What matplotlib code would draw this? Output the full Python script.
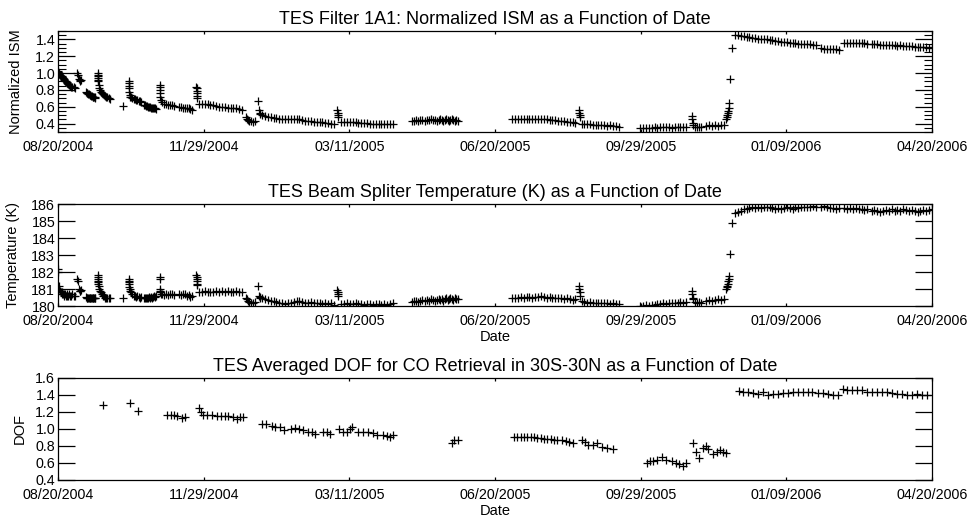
import numpy as np
import matplotlib; matplotlib.use("Agg")
import matplotlib.pyplot as plt
from matplotlib.ticker import MultipleLocator, NullLocator

plt.rcParams.update({"font.family": ["Liberation Sans", "DejaVu Sans"], "font.size": 10})

# x axis: days since 08/20/2004
ndays = 608
date_ticks = ["08/20/2004", "11/29/2004", "03/11/2005", "06/20/2005",
              "09/29/2005", "01/09/2006", "04/20/2006"]

# ISM and beam splitter temperature share the same sample days
day_ism = [
    0.0, 0.2, 0.5, 1.0, 1.5, 2.0, 2.5, 3.0, 3.5, 4.0, 4.5, 5.0, 5.5, 6.0, 6.5, 7.0, 7.5, 8.0, 9.0, 10.0, 11.0, 12.0,
    13.5, 13.8, 14.5, 15.0, 15.5, 16.2,
    19.5, 20.0, 20.5, 21.0, 21.5, 22.0, 22.5, 23.0, 23.5, 24.0, 24.5, 25.0, 25.5, 26.0,
    27.5, 27.6, 27.7, 27.8, 27.9, 28.0, 28.3, 28.7, 29.2, 29.8, 30.5, 31.2, 32.0, 32.8, 33.6, 34.4, 35.2, 36.0,
    45.4,
    49.2, 49.3, 49.4, 49.5, 49.6, 49.8, 50.3, 51.0, 51.8, 52.6, 53.4, 54.2, 55.0, 56.0, 57.0, 58.0,
    59.5, 60.2, 61.0, 61.8, 62.5, 63.2, 64.0, 64.8, 65.5, 66.2, 67.0, 67.8, 68.5,
    70.8, 70.9, 71.0, 71.1, 71.3, 71.6, 72.0, 73.5, 75.0, 76.5, 78.0, 79.5, 81.0,
    84.0, 85.5, 87.0, 88.5, 90.0, 91.0, 92.0, 93.0,
    96.3, 96.4, 96.5, 96.6, 96.7, 96.8,
    98, 100, 102, 104, 106, 108, 110, 112, 114, 116, 118, 120, 122, 124, 126, 128,
    130.5, 131.3, 132.2, 133.2, 134.2, 135.5, 137.0,
    139.0, 139.8, 140.2, 140.8,
    142, 144, 146, 148, 150, 152, 154, 156, 158, 160, 162, 164, 166, 168, 170, 172, 174, 176, 178, 180,
    182, 184, 186, 188, 190, 192,
    194.3, 194.5, 194.7, 195.0,
    197, 199, 201, 203, 205, 207, 209, 211, 213, 215, 217, 219, 221, 223, 225, 227, 229, 231, 233,
    246, 247.5, 249, 250.5, 252, 253.5, 255, 256.5, 258, 259.5, 261, 262.5, 264, 265, 266, 267, 268, 269,
    270, 271, 272, 273, 274, 275, 276, 277, 278,
    316, 318, 320, 322, 324, 326, 328, 330, 332, 334, 336, 338, 340, 342, 344, 346, 348, 350, 352, 354,
    356, 358, 360,
    362.4, 362.6, 362.8, 363.1,
    364.5, 366, 368, 370, 372, 374, 376, 378, 380, 382, 384, 386, 388, 390,
    405, 407, 409, 411, 413, 415, 417, 419, 421, 423, 425, 427, 429, 431, 433, 435, 437,
    440.8, 441.2, 441.6, 442.0,
    443, 444.5, 446, 447.5,
    451, 453, 455, 457, 459, 461, 463,
    465.0, 465.3, 465.6, 465.9, 466.2, 466.5, 467.0, 467.8, 469.0,
    471, 473, 475, 477, 479, 481, 483, 485, 487, 489, 491, 493, 495, 497, 499, 501, 503, 505, 507, 509,
    511, 513, 515, 517, 519, 521, 523, 525, 527,
    531, 533, 535, 537, 539, 541, 543,
    547, 549, 551, 553, 555, 557, 559, 561, 563,
    566, 568, 570, 572, 574, 576, 578, 580, 582, 584, 586, 588, 590, 592, 594, 596, 598, 600, 602, 604,
    606, 608,
]
ism = [
    1.02, 1.01, 1.00, 0.99, 0.98, 0.97, 0.96, 0.95, 0.94, 0.93, 0.92, 0.91, 0.90, 0.89, 0.88, 0.87, 0.86, 0.85, 0.84, 0.83, 0.83, 0.82,
    1.00, 0.98, 0.93, 0.92, 0.91, 0.92,
    0.77, 0.76, 0.76, 0.75, 0.75, 0.74, 0.74, 0.73, 0.73, 0.72, 0.72, 0.71, 0.71, 0.70,
    1.00, 0.98, 0.96, 0.94, 0.92, 0.90, 0.86, 0.82, 0.80, 0.78, 0.76, 0.75, 0.74, 0.73, 0.72, 0.71, 0.70, 0.69,
    0.61,
    0.91, 0.88, 0.85, 0.82, 0.78, 0.74, 0.72, 0.71, 0.70, 0.69, 0.69, 0.68, 0.68, 0.67, 0.67, 0.66,
    0.62, 0.62, 0.61, 0.61, 0.60, 0.60, 0.60, 0.59, 0.59, 0.59, 0.58, 0.58, 0.57,
    0.86, 0.84, 0.80, 0.76, 0.72, 0.68, 0.66, 0.63, 0.63, 0.62, 0.62, 0.62, 0.61,
    0.60, 0.60, 0.59, 0.59, 0.59, 0.58, 0.57, 0.56,
    0.84, 0.82, 0.79, 0.76, 0.73, 0.70,
    0.63, 0.63, 0.63, 0.63, 0.62, 0.62, 0.61, 0.60, 0.60, 0.60, 0.59, 0.59, 0.58, 0.58, 0.57, 0.56,
    0.48, 0.46, 0.44, 0.43, 0.43, 0.42, 0.43,
    0.67, 0.56, 0.53, 0.51,
    0.50, 0.49, 0.48, 0.48, 0.47, 0.47, 0.46, 0.46, 0.46, 0.46, 0.46, 0.46, 0.46, 0.45, 0.44, 0.43, 0.43, 0.43, 0.42, 0.42,
    0.42, 0.42, 0.41, 0.41, 0.40, 0.39,
    0.56, 0.53, 0.50, 0.48,
    0.42, 0.42, 0.42, 0.42, 0.42, 0.42, 0.41, 0.41, 0.41, 0.41, 0.40, 0.40, 0.40, 0.39, 0.39, 0.40, 0.39, 0.39, 0.40,
    0.43, 0.43, 0.44, 0.43, 0.44, 0.44, 0.43, 0.44, 0.44, 0.45, 0.44, 0.44, 0.43, 0.44, 0.45, 0.44, 0.43, 0.44,
    0.45, 0.44, 0.43, 0.44, 0.45, 0.44, 0.43, 0.44, 0.43,
    0.46, 0.46, 0.46, 0.46, 0.46, 0.46, 0.46, 0.46, 0.45, 0.45, 0.45, 0.45, 0.45, 0.44, 0.44, 0.44, 0.43, 0.43, 0.43, 0.42,
    0.42, 0.42, 0.41,
    0.56, 0.53, 0.50, 0.48,
    0.40, 0.39, 0.39, 0.39, 0.38, 0.38, 0.38, 0.38, 0.38, 0.37, 0.38, 0.37, 0.37, 0.36,
    0.35, 0.35, 0.35, 0.35, 0.35, 0.355, 0.35, 0.36, 0.36, 0.355, 0.36, 0.35, 0.355, 0.36, 0.355, 0.36, 0.36,
    0.49, 0.45, 0.41, 0.38,
    0.36, 0.36, 0.365, 0.36,
    0.375, 0.38, 0.375, 0.38, 0.375, 0.38, 0.38,
    0.46, 0.48, 0.50, 0.52, 0.55, 0.58, 0.64, 0.93, 1.30,
    1.45, 1.45, 1.44, 1.44, 1.43, 1.43, 1.42, 1.42, 1.41, 1.41, 1.40, 1.40, 1.39, 1.39, 1.38, 1.38, 1.37, 1.37, 1.37, 1.36,
    1.36, 1.36, 1.35, 1.35, 1.35, 1.34, 1.34, 1.33, 1.33,
    1.30, 1.29, 1.29, 1.28, 1.28, 1.28, 1.27,
    1.36, 1.355, 1.355, 1.36, 1.355, 1.355, 1.36, 1.355, 1.35,
    1.34, 1.34, 1.34, 1.335, 1.335, 1.33, 1.335, 1.33, 1.33, 1.325, 1.33, 1.325, 1.32, 1.32, 1.32, 1.315, 1.31, 1.31, 1.315, 1.31,
    1.30, 1.31,
]
temp = [
    182.2, 182.0, 181.2, 181.0, 180.9, 180.8, 180.8, 180.7, 180.7, 180.7, 180.6, 180.7, 180.6, 180.7, 180.6, 180.6, 180.7, 180.6, 180.6, 180.7, 180.6, 180.6,
    181.6, 181.5, 181.0, 180.9, 180.9, 180.95,
    180.55, 180.5, 180.45, 180.5, 180.5, 180.45, 180.5, 180.45, 180.5, 180.5, 180.45, 180.5, 180.5, 180.45,
    181.8, 181.7, 181.6, 181.5, 181.4, 181.3, 181.2, 181.0, 180.9, 180.8, 180.7, 180.6, 180.6, 180.5, 180.5, 180.5, 180.45, 180.5,
    180.5,
    181.6, 181.5, 181.4, 181.3, 181.1, 181.0, 180.9, 180.8, 180.7, 180.6, 180.6, 180.55, 180.6, 180.55, 180.5, 180.55,
    180.45, 180.5, 180.45, 180.5, 180.5, 180.55, 180.5, 180.55, 180.5, 180.55, 180.6, 180.55, 180.6,
    181.7, 181.6, 181.0, 180.9, 180.8, 180.7, 180.7, 180.65, 180.7, 180.65, 180.7, 180.7, 180.65,
    180.7, 180.65, 180.7, 180.7, 180.6, 180.65, 180.55, 180.6,
    181.8, 181.7, 181.6, 181.45, 181.3, 181.25,
    180.85, 180.85, 180.9, 180.85, 180.85, 180.8, 180.9, 180.85, 180.9, 180.85, 180.9, 180.85, 180.85, 180.9, 180.85, 180.85,
    180.5, 180.4, 180.3, 180.25, 180.2, 180.2, 180.25,
    181.2, 180.6, 180.55, 180.5,
    180.45, 180.4, 180.35, 180.3, 180.3, 180.25, 180.2, 180.15, 180.1, 180.15, 180.2, 180.25, 180.3, 180.3, 180.25, 180.2, 180.2, 180.25, 180.2, 180.15,
    180.2, 180.1, 180.15, 180.1, 180.15, 180.05,
    180.95, 180.8, 180.7, 180.6,
    180.1, 180.1, 180.15, 180.1, 180.1, 180.15, 180.1, 180.1, 180.05, 180.1, 180.1, 180.05, 180.1, 180.1, 180.05, 180.1, 180.05, 180.1, 180.15,
    180.25, 180.3, 180.3, 180.25, 180.3, 180.35, 180.3, 180.35, 180.3, 180.4, 180.35, 180.3, 180.35, 180.4, 180.35, 180.4, 180.3, 180.4,
    180.45, 180.35, 180.4, 180.45, 180.4, 180.35, 180.45, 180.4, 180.4,
    180.45, 180.5, 180.5, 180.55, 180.5, 180.55, 180.55, 180.5, 180.55, 180.55, 180.6, 180.55, 180.5, 180.55, 180.5, 180.45, 180.5, 180.45, 180.4, 180.45,
    180.4, 180.35, 180.4,
    181.2, 181.0, 180.8, 180.6,
    180.3, 180.25, 180.2, 180.25, 180.2, 180.2, 180.15, 180.2, 180.15, 180.15, 180.1, 180.15, 180.1, 180.1,
    180.0, 180.0, 180.05, 180.0, 180.05, 180.05, 180.1, 180.1, 180.15, 180.1, 180.15, 180.2, 180.15, 180.2, 180.25, 180.2, 180.25,
    180.9, 180.7, 180.5, 180.4,
    180.25, 180.2, 180.25, 180.2,
    180.3, 180.35, 180.3, 180.35, 180.4, 180.35, 180.4,
    181.0, 181.1, 181.2, 181.3, 181.5, 181.6, 181.75, 183.05, 184.9,
    185.45, 185.55, 185.6, 185.7, 185.7, 185.75, 185.8, 185.75, 185.8, 185.75, 185.8, 185.85, 185.8, 185.75, 185.7, 185.75, 185.7, 185.75, 185.8, 185.75,
    185.7, 185.8, 185.75, 185.8, 185.85, 185.8, 185.85, 185.9, 185.85,
    185.85, 185.9, 185.8, 185.75, 185.75, 185.7, 185.75,
    185.75, 185.7, 185.75, 185.7, 185.75, 185.7, 185.7, 185.65, 185.7,
    185.6, 185.65, 185.6, 185.55, 185.6, 185.65, 185.6, 185.7, 185.6, 185.65, 185.6, 185.7, 185.65, 185.6, 185.65, 185.6, 185.55, 185.6, 185.65, 185.6,
    185.65, 185.7,
]

# averaged DOF for CO retrieval, 30S-30N
day_dof = [
    31.1, 50.1, 55.9,
    76.1, 78.4, 80.7, 83.0, 86.0, 88.3,
    98.1, 99.2, 101.1, 103.9, 106.9, 110.4, 113.2, 116.2, 118.5, 122.0, 124.3, 126.6, 128.9,
    142.1, 144.5, 148.6, 151.0, 154.4, 157.2, 161.9, 164.9, 167.9, 170.7, 174.1, 176.5, 178.8, 184.1, 186.9, 189.2,
    195.7, 198.5, 201.3, 203.1, 204.7, 208.9, 212.4, 215.9, 219.3, 222.1, 225.9, 228.6, 230.9, 233.3,
    273.9, 275.5, 278.5,
    317.2, 319.5, 321.9, 324.2, 326.5, 328.8, 331.1, 333.4, 335.8, 338.1, 340.4, 342.7, 345.0, 347.3, 350.4, 353.4, 355.7, 358.5,
    364.3, 366.6, 368.9, 371.9, 374.7, 378.2, 381.7, 386.3,
    409.5, 411.8, 414.1, 416.9, 420.0, 423.0, 426.9, 429.9, 432.2, 434.6, 436.9,
    442.0, 443.8, 445.9, 448.5, 450.8, 452.4, 455.9, 458.2, 460.5, 462.8, 464.7,
    474.0, 476.7, 480.2, 483.7, 487.2, 490.6, 494.1, 497.6, 501.1, 504.6, 508.0, 511.5, 515.0, 518.5, 522.0, 524.3,
    528.9, 532.4, 535.9, 539.4, 542.8,
    546.3, 548.6, 552.1, 555.6, 559.1, 562.6, 566.0, 569.5, 573.0, 576.5, 580.0, 583.4, 586.9, 590.4, 593.9, 597.4,
    600.9, 604.3,
]
dof = [
    1.28, 1.31, 1.21,
    1.17, 1.17, 1.16, 1.15, 1.13, 1.14,
    1.25, 1.20, 1.17, 1.16, 1.16, 1.155, 1.15, 1.155, 1.15, 1.14, 1.12, 1.14, 1.145,
    1.06, 1.055, 1.04, 1.02, 1.02, 0.99, 1.00, 1.01, 1.00, 0.99, 0.97, 0.96, 0.94, 0.97, 0.97, 0.94,
    1.00, 0.97, 0.97, 1.00, 1.02, 0.97, 0.96, 0.96, 0.955, 0.93, 0.93, 0.92, 0.91, 0.93,
    0.84, 0.87, 0.87,
    0.91, 0.91, 0.91, 0.91, 0.905, 0.90, 0.90, 0.895, 0.89, 0.885, 0.885, 0.88, 0.875, 0.87, 0.87, 0.86, 0.85, 0.84,
    0.87, 0.85, 0.81, 0.81, 0.83, 0.79, 0.78, 0.76,
    0.60, 0.62, 0.62, 0.63, 0.67, 0.64, 0.62, 0.60, 0.59, 0.57, 0.60,
    0.83, 0.73, 0.66, 0.78, 0.80, 0.76, 0.70, 0.73, 0.75, 0.73, 0.72,
    1.45, 1.44, 1.43, 1.42, 1.41, 1.44, 1.40, 1.41, 1.41, 1.42, 1.42, 1.43, 1.43, 1.43, 1.43, 1.44,
    1.42, 1.42, 1.41, 1.40, 1.40,
    1.47, 1.46, 1.46, 1.455, 1.455, 1.44, 1.44, 1.435, 1.435, 1.43, 1.42, 1.41, 1.41, 1.40, 1.395, 1.41,
    1.40, 1.395,
]

panels = [
    (day_ism, ism, "TES Filter 1A1: Normalized ISM as a Function of Date", "Normalized ISM", None,
     (0.3, 1.5), 0.2, [0.0598, 0.7447, 0.901, 0.1954], -0.040),
    (day_ism, temp, "TES Beam Spliter Temperature (K) as a Function of Date", "Temperature (K)", "Date",
     (180, 186), 1, [0.0598, 0.4081, 0.901, 0.1973], -0.043),
    (day_dof, dof, "TES Averaged DOF for CO Retrieval in 30S-30N as a Function of Date", "DOF", "Date",
     (0.4, 1.6), 0.2, [0.0598, 0.0716, 0.901, 0.1973], -0.036),
]

fig = plt.figure(figsize=(9.7, 5.17), dpi=100)
for i, (xd, yd, title, ylab, xlab, ylim, step, rect, ylx) in enumerate(panels):
    ax = fig.add_axes(rect)
    ax.plot(xd, yd, "+", color="k", ms=5.5, mew=0.9)
    ax.set_xlim(0, ndays)
    ax.set_ylim(*ylim)
    ax.set_xticks(np.linspace(0, ndays, len(date_ticks)))
    ax.set_xticklabels(date_ticks)
    ax.xaxis.set_minor_locator(NullLocator())
    if i == 0:
        ax.set_yticks([0.4, 0.6, 0.8, 1.0, 1.2, 1.4])
        ax.set_yticklabels(["0.4", "0.6", "0.8", "1.0", "1.2", "1.4"])
        ax.yaxis.set_minor_locator(MultipleLocator(0.05))
    else:
        ax.yaxis.set_major_locator(MultipleLocator(step))
        if step < 1:
            ax.yaxis.set_major_formatter(plt.FormatStrFormatter("%.1f"))
        ax.yaxis.set_minor_locator(NullLocator())
    ax.tick_params(axis="y", which="major", direction="in", length=12, width=0.9,
                   left=True, right=True, pad=2, labelsize=10.3)
    ax.tick_params(axis="y", which="minor", direction="in", length=6, width=0.8,
                   left=True, right=True)
    ax.tick_params(axis="x", which="major", direction="in", length=2.5, width=0.9,
                   top=True, bottom=True, pad=6, labelsize=10.3)
    for s in ax.spines.values():
        s.set_linewidth(0.9)
    ax.set_title(title, fontsize=13, pad=5)
    ax.set_ylabel(ylab, fontsize=10.5)
    ax.yaxis.set_label_coords(ylx, 0.5)
    if xlab:
        ax.set_xlabel(xlab, fontsize=10.5, labelpad=1)

fig.savefig("out.png", dpi=100)
